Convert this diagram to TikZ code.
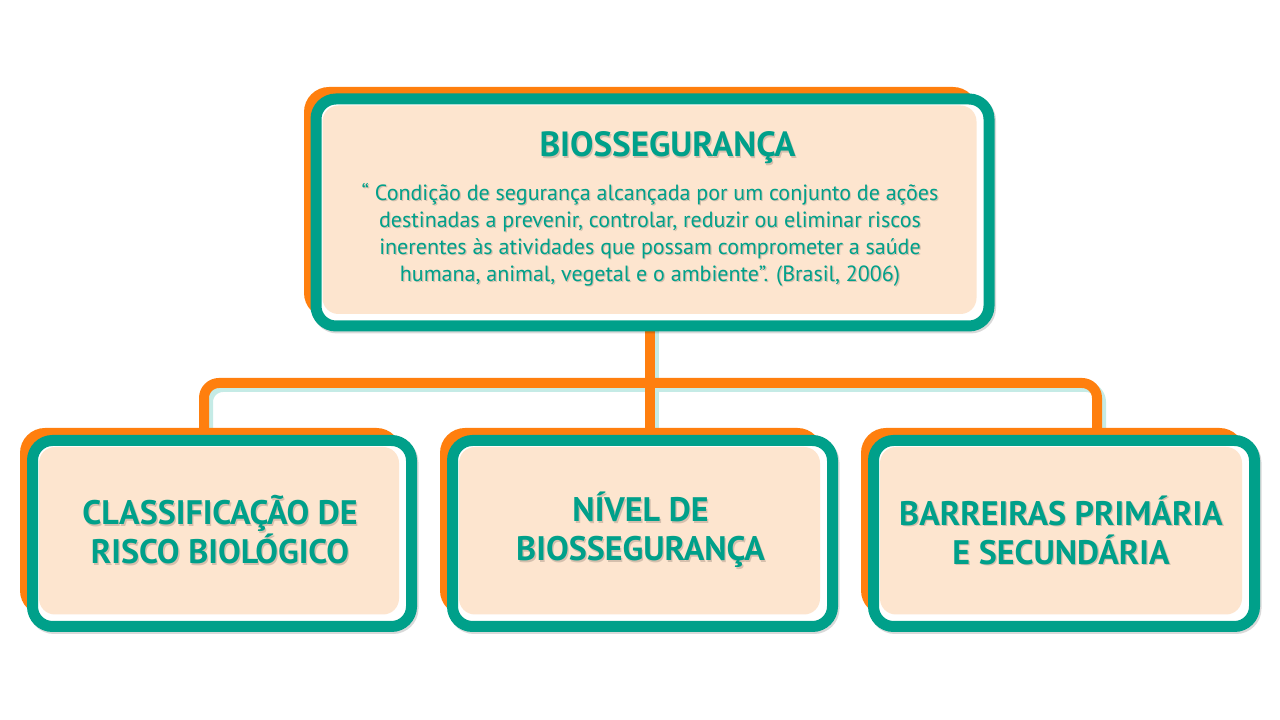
\documentclass[tikz,border=0pt]{standalone}
\usepackage{fontspec}
\setmainfont{PT Sans}
\usetikzlibrary{backgrounds,calc}
\definecolor{teal1}{HTML}{00A08A}
\definecolor{orng}{HTML}{FF7F0E}
\definecolor{peach}{HTML}{FDE5CF}
\definecolor{cyanl}{HTML}{C5EBE6}
\definecolor{shad}{HTML}{7A6A60}
\begin{document}
\begin{tikzpicture}[x=1pt,y=1pt,
 tealbox/.style={draw=teal1, line width=11pt, fill=white, rounded corners=20pt, inner sep=0pt, outer sep=0pt},
 conn/.style={draw=orng, line width=10pt, rounded corners=15pt},
 connshadow/.style={draw=cyanl, line width=10pt, rounded corners=15pt},
 orangeback/.style={fill=orng, rounded corners=25pt},
 boxshadow/.style={draw=black, opacity=0.15, line width=11pt, rounded corners=20pt},
 peachfill/.style={fill=peach, rounded corners=16pt},
 titletext/.style={text=teal1, font=\bfseries\fontsize{35}{40}\selectfont, inner sep=0pt},
 bodytext/.style={text=teal1, font=\fontsize{22}{27}\selectfont, align=center, inner sep=0pt},
 boxlabel/.style={text=teal1, font=\bfseries\fontsize{34}{39}\selectfont, align=center, inner sep=0pt},
 txtshadow/.style={text=shad, opacity=0.3},
]
\useasboundingbox (0,0) rectangle (1280,720);
% boxes
\node[tealbox, minimum width=673pt, minimum height=227pt] (top) at (652.5,507.5) {};
\node[tealbox, minimum width=379pt, minimum height=186pt] (left) at (222,186.5) {};
\node[tealbox, minimum width=380pt, minimum height=186pt] (mid) at (642.5,186.5) {};
\node[tealbox, minimum width=381pt, minimum height=186pt] (right) at (1064,186.5) {};
% junction coordinates
\coordinate (j) at (650,337);
\coordinate (cl) at (204,285);
\coordinate (cr) at (1097,285);
\begin{scope}[on background layer]
 \draw[connshadow] ($(cl)+(4,-4)$) |- ($(j)+(4,-4)$) -| ($(cr)+(4,-4)$);
 \draw[connshadow] ($(top.south -| j)+(4,0)$) -- ($(mid.north -| j)+(4,0)$);
 \draw[conn] (cl) |- (j) -| (cr);
 \draw[conn] (top.south -| j) -- (mid.north -| j);
 \foreach \b in {left,mid,right}{
   \fill[orangeback] ($(\b.north west)+(-12.5,12.5)$) rectangle ($(\b.south east)+(-10,11)$);
   \draw[boxshadow] ($(\b.north west)+(1.5,-2)$) rectangle ($(\b.south east)+(1.5,-2)$);
 }
 \fill[orangeback] ($(top.north west)+(-12,12)$) rectangle ($(top.south east)+(-11,8)$);
 \draw[boxshadow] ($(top.north west)+(1.5,-2)$) rectangle ($(top.south east)+(1.5,-2)$);
\end{scope}
% peach interiors
\foreach \b in {top,left,mid,right}{
  \fill[peachfill] ($(\b.north west)+(6.5,-6.5)$) rectangle ($(\b.south east)+(-12.5,12)$);
}
% texts
\node[titletext, txtshadow] (ttls) at (668.7,570.8) {BIOSSEGURANÇA};
\node[titletext] (ttl) at (667.5,572) {BIOSSEGURANÇA};
\node[bodytext, txtshadow] (bds) at (651.2,483.8) {“ Condição de segurança alcançada por um conjunto de ações\\destinadas a prevenir, controlar, reduzir ou eliminar riscos\\inerentes às atividades que possam comprometer a saúde\\humana, animal, vegetal e o ambiente”. (Brasil, 2006)};
\node[bodytext] (bd) at (650,485) {“ Condição de segurança alcançada por um conjunto de ações\\destinadas a prevenir, controlar, reduzir ou eliminar riscos\\inerentes às atividades que possam comprometer a saúde\\humana, animal, vegetal e o ambiente”. (Brasil, 2006)};
\node[boxlabel, txtshadow] (l1s) at (221.3,188.7) {CLASSIFICAÇÃO DE\\RISCO BIOLÓGICO};
\node[boxlabel] (l1) at (220,190) {CLASSIFICAÇÃO DE\\RISCO BIOLÓGICO};
\node[boxlabel, txtshadow] (l2s) at (641.8,188.7) {NÍVEL DE\\BIOSSEGURANÇA};
\node[boxlabel] (l2) at (640.5,190) {NÍVEL DE\\BIOSSEGURANÇA};
\node[boxlabel, txtshadow] (l3s) at (1062.3,188.7) {BARREIRAS PRIMÁRIA\\E SECUNDÁRIA};
\node[boxlabel] (l3) at (1061,190) {BARREIRAS PRIMÁRIA\\E SECUNDÁRIA};
\end{tikzpicture}
\end{document}
